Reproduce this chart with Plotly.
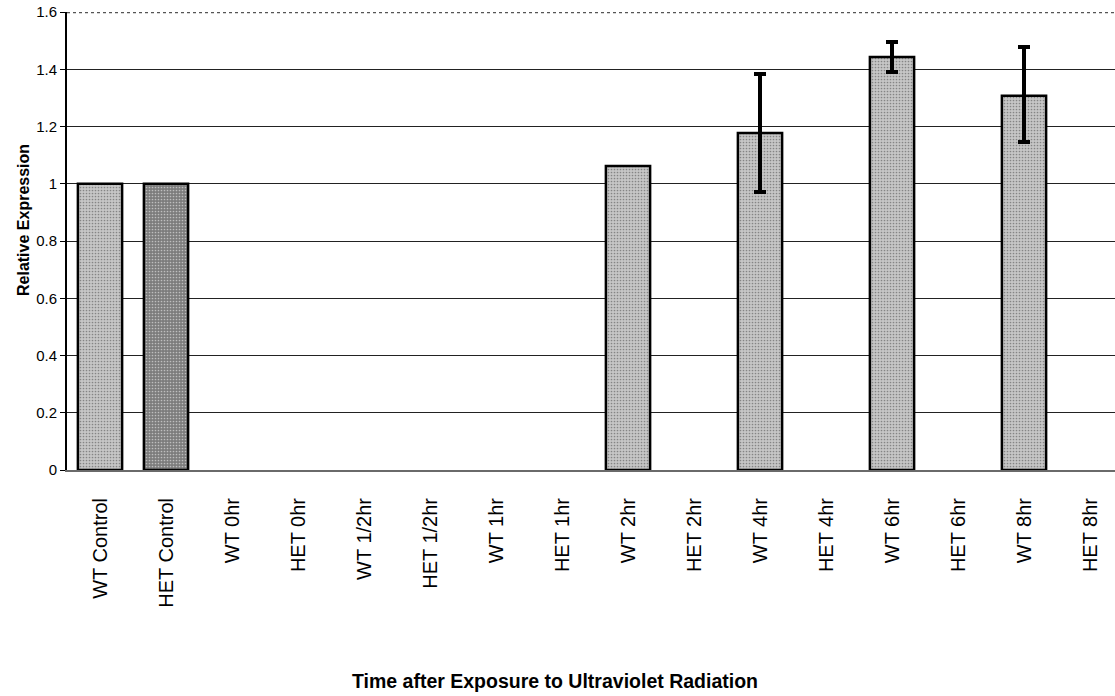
import plotly.graph_objects as go

categories = ["WT Control", "HET Control", "WT 0hr", "HET 0hr", "WT 1/2hr", "HET 1/2hr",
              "WT 1hr", "HET 1hr", "WT 2hr", "HET 2hr", "WT 4hr", "HET 4hr",
              "WT 6hr", "HET 6hr", "WT 8hr", "HET 8hr"]
values = [1.0, 1.0, None, None, None, None, None, None, 1.062, None, 1.177, None,
          1.443, None, 1.307, None]
err_categories = ["WT 4hr", "WT 6hr", "WT 8hr"]
err_means = [1.177, 1.443, 1.307]
err_plus = [0.206, 0.052, 0.171]
err_minus = [0.206, 0.053, 0.161]
y_ticks = [0, 0.2, 0.4, 0.6, 0.8, 1.0, 1.2, 1.4, 1.6]
y_tick_text = ["0", "0.2", "0.4", "0.6", "0.8", "1", "1.2", "1.4", "1.6"]

colors = ["#7c7c7c" if c.startswith("HET") else "#c6c6c6" for c in categories]

W, H = 1115, 696
L, T, B = 67, 12, 226
cat_px = 66.0
plot_w = W - L
plot_h = H - T - B
x_hi = -0.5 + plot_w / cat_px

fig = go.Figure()
fig.add_trace(go.Bar(
    x=categories, y=values, width=0.67,
    marker=dict(color=colors, line=dict(color="black", width=2.5),
                pattern=dict(shape=".", size=3, solidity=0.25, fgcolor="#555555")),
    showlegend=False,
))
fig.add_trace(go.Scatter(
    x=err_categories, y=err_means, mode="markers",
    marker=dict(size=1, color="rgba(0,0,0,0)"),
    error_y=dict(type="data", symmetric=False, array=err_plus, arrayminus=err_minus,
                 color="black", thickness=4, width=6),
    showlegend=False, hoverinfo="skip",
))

fig.update_layout(
    width=W, height=H,
    margin=dict(l=L, r=0, t=T, b=B, pad=0),
    plot_bgcolor="white", paper_bgcolor="white",
    font=dict(family="Liberation Sans, Arial", color="black"),
    xaxis=dict(
        type="category", categoryorder="array", categoryarray=categories,
        range=[-0.5, x_hi],
        tickangle=-90, tickfont=dict(size=20), ticks="", ticklabelstandoff=18,
        showline=True, linecolor="#6a6a6a", linewidth=2, showgrid=False,
    ),
    yaxis=dict(
        range=[0, 1.6], tickvals=y_ticks, ticktext=y_tick_text,
        tickfont=dict(size=15), ticks="outside", ticklen=5, tickcolor="black",
        showline=True, linecolor="black", linewidth=2,
        showgrid=True, gridcolor="#222222", gridwidth=1, zeroline=False,
    ),
    annotations=[
        dict(text="<b>Time after Exposure to Ultraviolet Radiation</b>",
             xref="paper", yref="paper",
             x=(555 - L) / plot_w, y=(470 - 681) / plot_h,
             xanchor="center", yanchor="middle", showarrow=False,
             font=dict(size=19.5)),
        dict(text="<b>Relative Expression</b>",
             xref="paper", yref="paper",
             x=(24 - L) / plot_w, y=(470 - 220) / plot_h,
             xanchor="center", yanchor="middle", showarrow=False,
             textangle=-90, font=dict(size=16)),
    ],
    shapes=[dict(type="line", xref="paper", yref="y", x0=0, x1=1, y0=1.6, y1=1.6,
                 line=dict(color="#555555", width=2.5, dash="dot"))],
)

fig.write_html("out.html")
